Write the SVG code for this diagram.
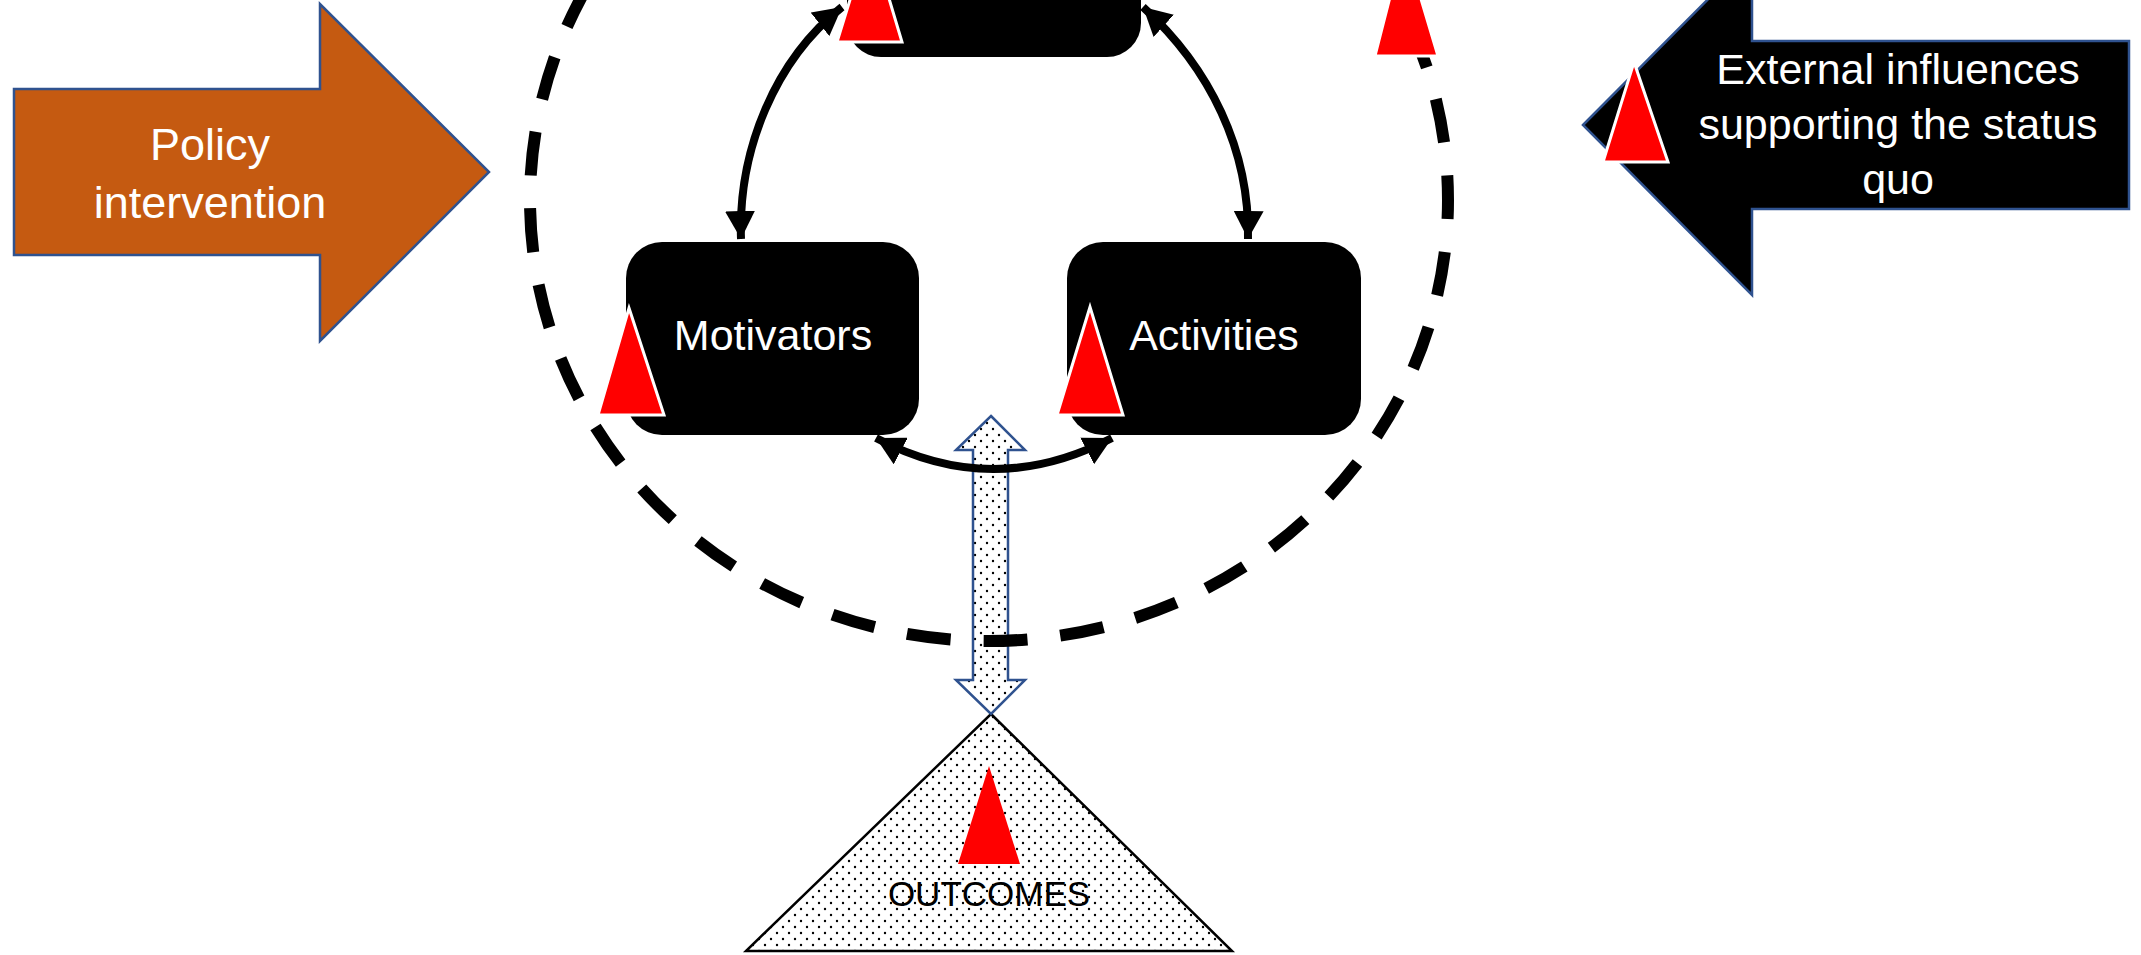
<svg xmlns="http://www.w3.org/2000/svg" width="2141" height="955" viewBox="0 0 2141 955">
<style>
.node{fill:#000000;}
.lbl{fill:#ffffff;font-family:"Liberation Sans",Arial,sans-serif;font-size:43px;text-anchor:middle;}
.blockarrow{stroke:#2F528F;stroke-width:2.5;stroke-linejoin:miter;}
.conn{fill:none;stroke:#000000;stroke-width:8;marker-start:url(#ah);marker-end:url(#ah);}
.dash{fill:none;stroke:#000000;stroke-width:12;stroke-dasharray:44 33;}
.tri{fill:#FF0000;stroke:#ffffff;stroke-width:3;stroke-linejoin:miter;}
.dotted{fill:url(#dots);}
</style>
<defs>
<pattern id="dots" patternUnits="userSpaceOnUse" width="12" height="12">
<rect width="12" height="12" fill="#ffffff"/>
<circle cx="3" cy="3" r="1.2" fill="#000000"/>
<circle cx="9" cy="9" r="1.2" fill="#000000"/>
</pattern>
<marker id="ah" markerUnits="userSpaceOnUse" viewBox="0 0 28 30" markerWidth="28" markerHeight="30" refX="28" refY="15" orient="auto-start-reverse">
<path d="M0,0 L28,15 L0,30 z" fill="#000000"/>
</marker>
</defs>
<rect width="2141" height="955" fill="#ffffff"/>

<g id="policy-intervention">
<polygon class="blockarrow" fill="#C55A11" points="14,89 320,89 320,4 489,172 320,341 320,255 14,255"/>
<text class="lbl" style="font-size:45px" x="210" y="160">Policy</text>
<text class="lbl" style="font-size:45px" x="210" y="218">intervention</text>
</g>

<g id="external-influences">
<polygon class="blockarrow" fill="#000000" points="1583,125 1752,-45 1752,41 2129,41 2129,209 1752,209 1752,295 1583,125"/>
<text class="lbl" x="1898" y="84">External influences</text>
<text class="lbl" x="1898" y="139">supporting the status</text>
<text class="lbl" x="1898" y="194">quo</text>
</g>

<g id="outcomes">
<polygon class="dotted" stroke="#000000" stroke-width="2.5" points="991,714 1232,951 746,951"/>
<text x="989" y="906" fill="#000000" font-family="'Liberation Sans',Arial,sans-serif" font-size="35" text-anchor="middle">OUTCOMES</text>
</g>

<g id="top-node">
<rect class="node" x="847" y="-200" width="294" height="257" rx="34" ry="34"/>
</g>

<g id="motivators">
<rect class="node" x="626" y="242" width="293" height="193" rx="36" ry="36"/>
<text class="lbl" x="773" y="350">Motivators</text>
</g>

<g id="activities">
<rect class="node" x="1067" y="242" width="294" height="193" rx="36" ry="36"/>
<text class="lbl" x="1214" y="350">Activities</text>
</g>

<g id="connectors">
<polygon class="dotted blockarrow" stroke-width="2" points="991,416 1025,450 1008,450 1008,680 1025,680 991,714 956,680 973,680 973,450 956,450"/>
<path class="dash" stroke-dashoffset="11" d="M 989,-241 A 459 441 0 1 1 989,641 A 459 441 0 1 1 989,-241"/>
<path class="conn" d="M 842,7 C 775,60 738,150 741,239"/>
<path class="conn" d="M 1143,7 C 1210,68 1250,150 1248,239"/>
<path class="conn" d="M 876,438 Q 993,500 1112,438"/>
</g>

<g id="red-triangles">
<polygon class="tri" points="870,-65 902,42 837,42"/>
<polygon class="tri" points="1404,-58 1438,56 1375,56"/>
<polygon class="tri" points="1634,62 1668,162 1603,162"/>
<polygon class="tri" points="629,308 664,415 598,415"/>
<polygon class="tri" points="1090,307 1123,415 1057,415"/>
<polygon fill="#FF0000" points="989,766 1020,864 958,864"/>
</g>
</svg>
